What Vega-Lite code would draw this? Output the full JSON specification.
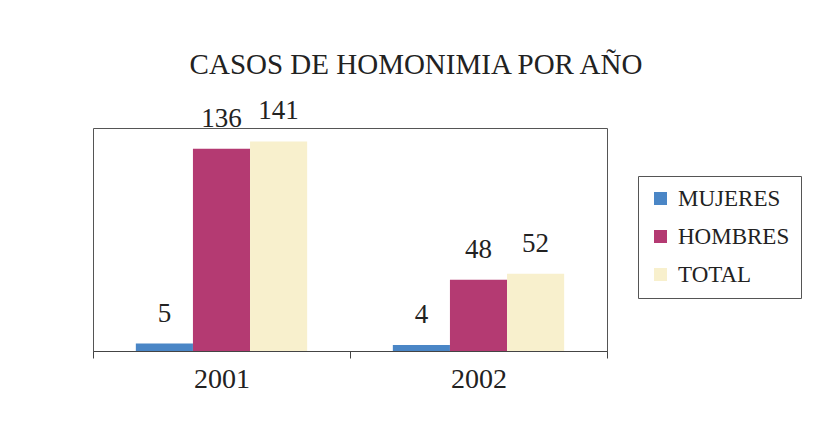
{
  "$schema": "https://vega.github.io/schema/vega-lite/v6.json",
  "width": 514,
  "height": 223,
  "autosize": {"type": "none"},
  "padding": {"left": 93, "top": 128, "right": 206, "bottom": 74},
  "background": "white",
  "title": {
    "text": "CASOS DE HOMONIMIA POR AÑO",
    "font": "'Liberation Serif', 'DejaVu Serif', serif",
    "fontSize": 29,
    "fontWeight": "normal",
    "color": "#222222",
    "anchor": "middle",
    "frame": "group",
    "dx": 66,
    "offset": 17
  },
  "data": {
    "values": [
      {"anio": "2001", "serie": "MUJERES", "casos": 5},
      {"anio": "2001", "serie": "HOMBRES", "casos": 136},
      {"anio": "2001", "serie": "TOTAL", "casos": 141},
      {"anio": "2002", "serie": "MUJERES", "casos": 4},
      {"anio": "2002", "serie": "HOMBRES", "casos": 48},
      {"anio": "2002", "serie": "TOTAL", "casos": 52}
    ]
  },
  "encoding": {
    "x": {
      "field": "anio",
      "type": "nominal",
      "scale": {"paddingInner": 0, "paddingOuter": 0},
      "axis": {
        "title": null,
        "labelAngle": 0,
        "labelFont": "'Liberation Serif', 'DejaVu Serif', serif",
        "labelFontSize": 28,
        "labelColor": "#222222",
        "labelPadding": 7,
        "domainColor": "#444444",
        "tickColor": "#444444",
        "tickSize": 7,
        "tickBand": "extent"
      }
    },
    "xOffset": {
      "field": "serie",
      "type": "nominal",
      "sort": ["MUJERES", "HOMBRES", "TOTAL"],
      "scale": {"paddingInner": 0, "paddingOuter": 0.75}
    },
    "y": {
      "field": "casos",
      "type": "quantitative",
      "scale": {"domain": [0, 150], "nice": false},
      "axis": null
    }
  },
  "layer": [
    {
      "mark": {"type": "bar"},
      "encoding": {
        "color": {
          "field": "serie",
          "type": "nominal",
          "sort": ["MUJERES", "HOMBRES", "TOTAL"],
          "scale": {
            "domain": ["MUJERES", "HOMBRES", "TOTAL"],
            "range": ["#4a86c6", "#b43a72", "#f8f0cd"]
          },
          "legend": {
            "title": null,
            "orient": "none",
            "legendX": 545,
            "legendY": 48,
            "symbolType": "square",
            "symbolSize": 169,
            "symbolStrokeWidth": 0,
            "labelFont": "'Liberation Serif', 'DejaVu Serif', serif",
            "labelFontSize": 23,
            "labelColor": "#222222",
            "labelOffset": 6,
            "rowPadding": 14,
            "padding": 11,
            "strokeColor": "#555555",
            "fillColor": "white"
          }
        }
      }
    },
    {
      "mark": {
        "type": "text",
        "baseline": "bottom",
        "dy": -16,
        "font": "'Liberation Serif', 'DejaVu Serif', serif",
        "fontSize": 27,
        "color": "#222222"
      },
      "encoding": {
        "text": {"field": "casos", "type": "quantitative"}
      }
    }
  ],
  "config": {
    "view": {"stroke": "#555555", "strokeWidth": 1}
  }
}
